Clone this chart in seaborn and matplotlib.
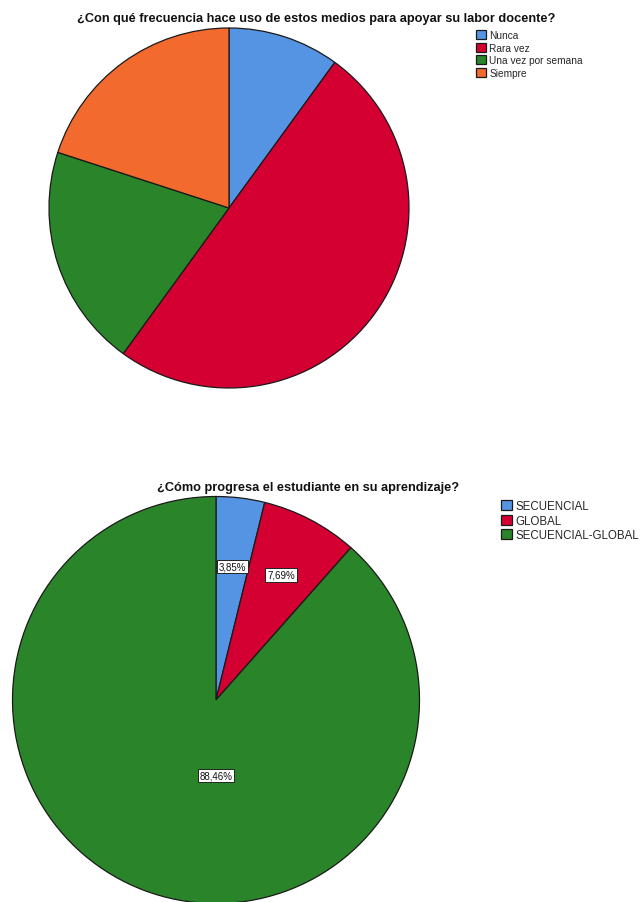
import matplotlib
matplotlib.use("Agg")
import matplotlib.pyplot as plt
import seaborn as sns
import numpy as np

# Survey results
freq_categories = ["Nunca", "Rara vez", "Una vez por semana", "Siempre"]
freq_values = [10.0, 50.0, 20.0, 20.0]

prog_categories = ["SECUENCIAL", "GLOBAL", "SECUENCIAL-GLOBAL"]
prog_values = [3.85, 7.69, 88.46]
prog_labels = ["3,85%", "7,69%", "88,46%"]

sns.set_theme(style="white")
plt.rcParams["font.family"] = ["Liberation Sans", "DejaVu Sans"]

freq_colors = sns.color_palette(["#5594E3", "#D50032", "#2A8429", "#F26A2E"])
prog_colors = sns.color_palette(["#5594E3", "#D50032", "#2A8429"])

W, H = 641, 903
fig = plt.figure(figsize=(W / 100, H / 100), dpi=100)
fig.patch.set_facecolor("white")


def pie_axes(cx, cy, r):
    ax = fig.add_axes([(cx - r) / W, (H - cy - r) / H, 2 * r / W, 2 * r / H])
    ax.axis("off")
    return ax


def fit_unit(ax):
    ax.set_xlim(-1, 1)
    ax.set_ylim(-1, 1)
    ax.set_aspect("equal")


wedge_style = dict(edgecolor="#1a1a1a", linewidth=0.9)

# Top chart
ax1 = pie_axes(229, 209, 180)
wedges1, _ = ax1.pie(freq_values, colors=freq_colors, startangle=90,
                     counterclock=False, radius=1, wedgeprops=wedge_style)
fit_unit(ax1)
fig.text(316 / W, 1 - 19 / H,
         "¿Con qué frecuencia hace uso de estos medios para apoyar su labor docente?",
         ha="center", va="center", fontsize=9.2, fontweight="bold", color="#111111")
fig.legend(wedges1, freq_categories, loc="upper left",
           bbox_to_anchor=(476 / W, 1 - 31 / H), frameon=False, fontsize=7.3,
           handlelength=1.0, handleheight=1.0, handletextpad=0.3,
           labelspacing=0.25, borderpad=0, borderaxespad=0)

# Bottom chart
ax2 = pie_axes(216, 701, 203.5)
wedges2, _ = ax2.pie(prog_values, colors=prog_colors, startangle=90,
                     counterclock=False, radius=1, wedgeprops=wedge_style)
fit_unit(ax2)
label_pos = [(0.08, 0.655), (0.32, 0.615), (0.0, -0.37)]
for (x, y), txt in zip(label_pos, prog_labels):
    ax2.text(x, y, txt, ha="center", va="center", fontsize=7, color="#111111",
             bbox=dict(boxstyle="square,pad=0.18", fc="white", ec="#222222", lw=0.7))
fig.text(308 / W, 1 - 488 / H, "¿Cómo progresa el estudiante en su aprendizaje?",
         ha="center", va="center", fontsize=9.2, fontweight="bold", color="#111111")
fig.legend(wedges2, prog_categories, loc="upper left",
           bbox_to_anchor=(501 / W, 1 - 501 / H), frameon=False, fontsize=8.3,
           handlelength=0.95, handleheight=0.95, handletextpad=0.3,
           labelspacing=0.22, borderpad=0, borderaxespad=0)

fig.savefig("out.png", dpi=100, facecolor="white")
